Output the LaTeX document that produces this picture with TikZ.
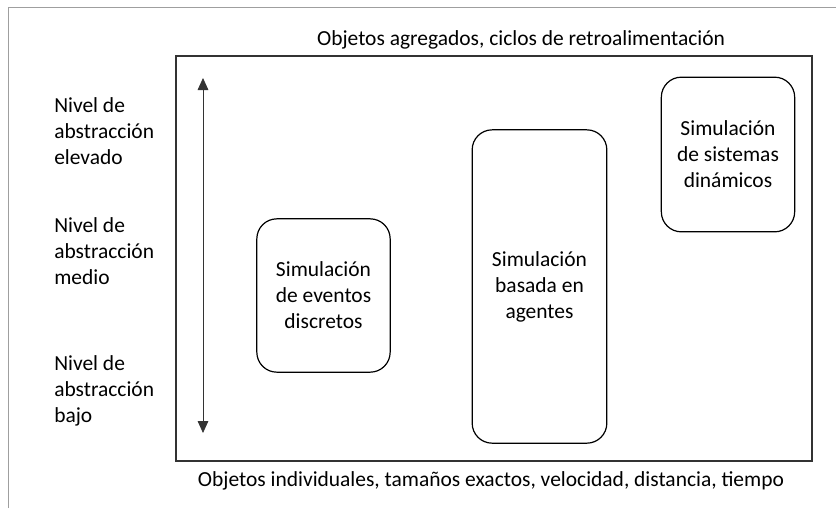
\documentclass[tikz,border=0pt]{standalone}
\usepackage{fontspec}
\setmainfont{Carlito}
\usetikzlibrary{positioning, arrows.meta}

\begin{document}
\begin{tikzpicture}[x=0.75pt, y=-0.75pt,
    font=\fontsize{16.1}{19.5}\selectfont,
    caja/.style={draw=black,
                 line width=0.9pt,
                 rounded corners=15pt,
                 align=center,
                 inner sep=0pt},
    nivel/.style={anchor=west,
                  align=left,
                  inner sep=0pt}]

    \useasboundingbox (0,0) rectangle (836,508);

    % marco gris de la hoja
    \draw[gray!75, line width=1.3pt] (8.5,508) -- (8.5,7.5) -- (836,7.5);

    % marco interior
    \draw[black!80, line width=0.8pt] (176,56) rectangle (812,461);

    \node (agregados) at (521,40) {Objetos agregados, ciclos de retroalimentación};
    \node (individuales) at (491,481) {Objetos individuales, tamaños exactos, velocidad, distancia, tiempo};

    \node[nivel] (elevado) at (54,131) {Nivel de\\abstracción\\elevado};
    \node[nivel] (medio)   at (54,251) {Nivel de\\abstracción\\medio};
    \node[nivel] (bajo)    at (54,391) {Nivel de\\abstracción\\bajo};

    \coordinate (arriba) at (203,78);
    \coordinate (abajo)  at (203,433);
    \draw[{Triangle[width=8pt, length=9pt]}-{Triangle[width=8pt, length=9pt]},
          line width=0.6pt,
          draw=black!80]
        (arriba) -- (abajo);

    \node[caja,
          minimum width=100pt,
          minimum height=115pt] (discretos) at (323.5,295.5) {Simulación\\de eventos\\discretos};
    \node[caja,
          minimum width=101pt,
          minimum height=235pt] (agentes) at (539.5,286.5) {Simulación\\basada en\\agentes};
    \node[caja,
          minimum width=100pt,
          minimum height=116pt] (dinamicos) at (728,154.5) {Simulación\\de sistemas\\dinámicos};
\end{tikzpicture}
\end{document}
